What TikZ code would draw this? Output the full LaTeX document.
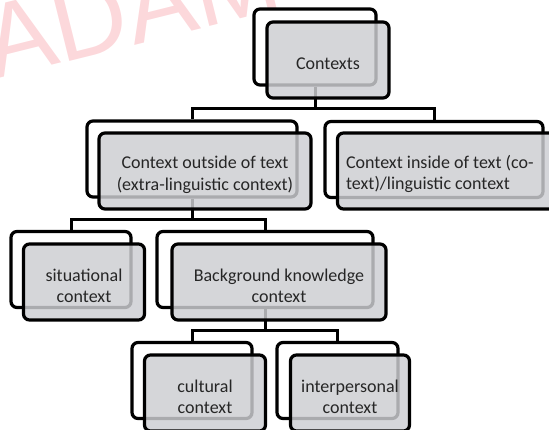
\documentclass[tikz,border=0pt]{standalone}
\usepackage{fontspec}
\setmainfont{Carlito}
\newfontfamily\wmfont{Liberation Sans}
\definecolor{boxgray}{RGB}{205,206,210}
\definecolor{wmpink}{RGB}{252,216,219}
\begin{document}
\begin{tikzpicture}[x=1pt,y=-1pt,
  backbox/.style={draw=black, line width=3.2pt, rounded corners=6pt, fill=white, minimum height=76pt, inner sep=0pt},
  frontbox/.style={draw=black, line width=3.2pt, rounded corners=6pt, fill=boxgray, fill opacity=0.83, minimum height=76pt, inner sep=0pt},
  label/.style={inner sep=0pt, align=center, font=\fontsize{18}{21.5}\selectfont, text=black!85},
  conn/.style={draw=black, line width=3pt}]
\useasboundingbox (0,0) rectangle (549,430);
\clip (0,0) rectangle (549,430);
\node[anchor=base west, rotate=14, text=wmpink, font=\wmfont\fontsize{104}{104}\selectfont, inner sep=0pt] (wm) at (-6,80) {ADAM};
% back boxes
\node[backbox, minimum width=122pt] (b1) at (315,47) {};
\node[backbox, minimum width=210pt] (b2l) at (192,159) {};
\node[backbox, minimum width=218pt] (b2r) at (434,159.5) {};
\node[backbox, minimum width=120pt] (b3s) at (71,269.5) {};
\node[backbox, minimum width=216pt] (b3b) at (265,269.5) {};
\node[backbox, minimum width=120pt] (b4c) at (192,380.5) {};
\node[backbox, minimum width=121pt] (b4i) at (337.5,380.5) {};
% junctions
\coordinate (j1) at (315,109);
\coordinate (j2) at (192,220);
\coordinate (j3) at (265,331);
\draw[conn] (b1.south) -- (j1);
\draw[conn] (j1) -| (b2l.north);
\draw[conn] (j1) -| (b2r.north);
\draw[conn] (b2l.south) -- (j2);
\draw[conn] (j2) -| (b3s.north);
\draw[conn] (j2) -| (b3b.north);
\draw[conn] (b3b.south) -- (j3);
\draw[conn] (j3) -| (b4c.north);
\draw[conn] (j3) -| (b4i.north);
% front boxes
\node[frontbox, minimum width=122pt] (f1) at (328,60) {};
\node[frontbox, minimum width=212pt] (f2l) at (205,171) {};
\node[frontbox, minimum width=219pt] (f2r) at (447,171) {};
\node[frontbox, minimum width=121pt] (f3s) at (84,282) {};
\node[frontbox, minimum width=214pt] (f3b) at (279,282) {};
\node[frontbox, minimum width=121pt] (f4c) at (205,393) {};
\node[frontbox, minimum width=119pt] (f4i) at (350,393) {};
% texts
\node[label] (t1) at ([yshift=-4pt]f1.center) {Contexts};
\node[label] (t2l) at ([yshift=-4pt]f2l.center) {Context outside of text\\(extra-linguistic context)};
\node[label, align=left, anchor=west] (t2r) at ([xshift=10pt,yshift=-3pt]f2r.west) {Context inside of text (co-\\text)/linguistic context};
\node[label] (t3s) at ([yshift=-4pt]f3s.center) {situational\\context};
\node[label] (t3b) at ([yshift=-4pt]f3b.center) {Background knowledge\\context};
\node[label] (t4c) at ([yshift=-4pt]f4c.center) {cultural\\context};
\node[label] (t4i) at ([yshift=-4pt]f4i.center) {interpersonal\\context};
\end{tikzpicture}
\end{document}
